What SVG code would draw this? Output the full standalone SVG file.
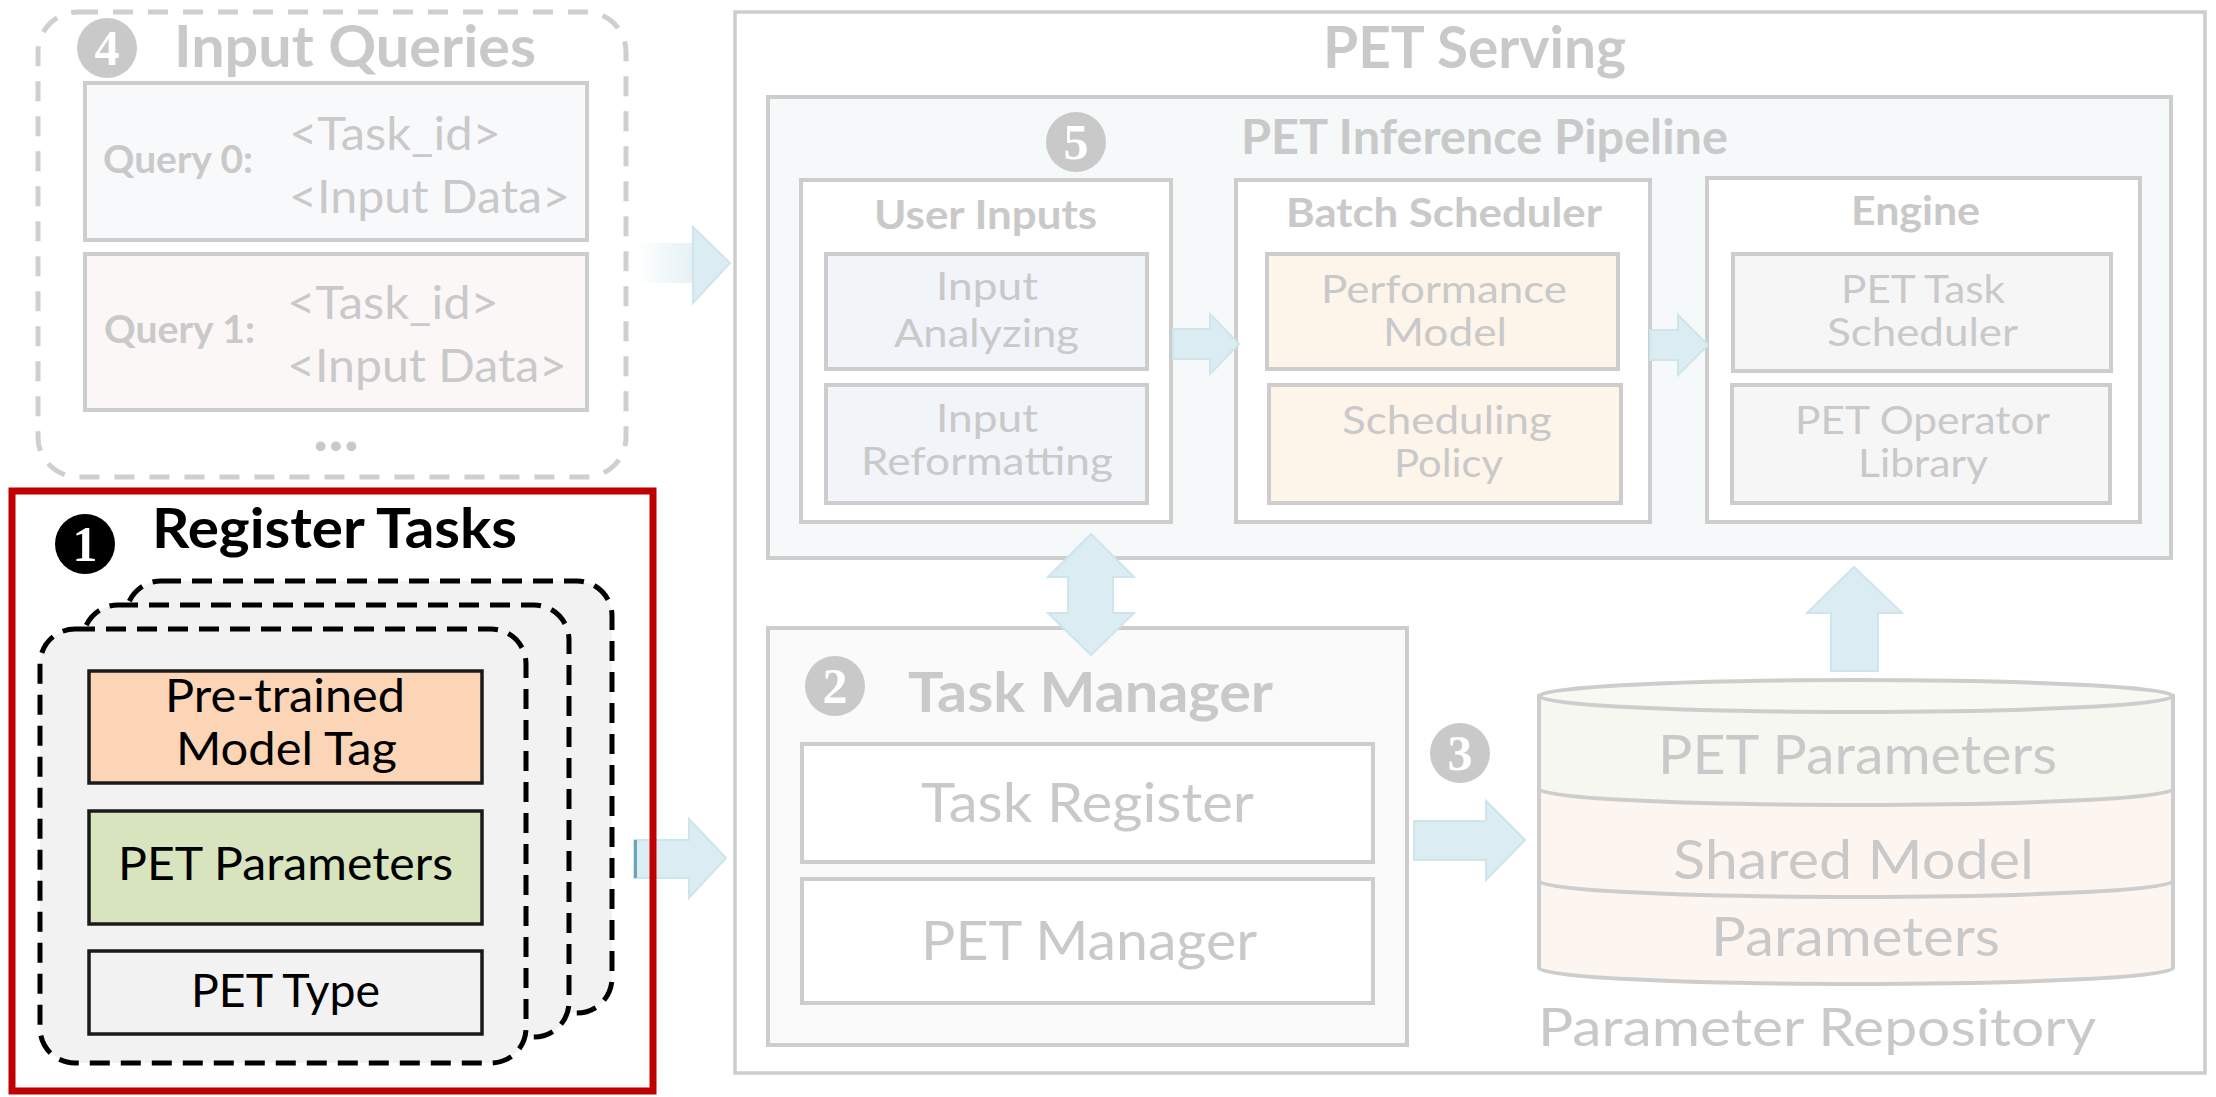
<svg xmlns="http://www.w3.org/2000/svg" width="2216" height="1097" viewBox="0 0 2216 1097">
  <style>
    text { font-family: Lato, "Open Sans", "Liberation Sans", sans-serif; }
    .g { fill: #c9c9c9; }
    .k { fill: #000000; }
    .b { font-weight: bold; }
    .sm { font-size: 38px; }
    .box { stroke: #cdcdcd; stroke-width: 4; }
    .frame { fill: none; stroke: #cdcdcd; stroke-width: 3.5; }
    .blk { stroke: #1a1a1a; stroke-width: 3.5; }
    .arr { fill: #dbedf2; stroke: #cfe5ec; stroke-width: 2; }
    .num { fill: #c9c9c9; }
    .dig { font-family: "Liberation Serif", "DejaVu Serif", serif; font-weight: bold; font-size: 50px; fill: #ffffff; text-anchor: middle; }
    .card { fill: #f2f2f2; stroke: #000000; stroke-width: 5; stroke-dasharray: 20 11; }
    .cyl { stroke: #cdcdcd; stroke-width: 4; }
  </style>
  <defs>
    <linearGradient id="fade" x1="0" y1="0" x2="1" y2="0">
      <stop offset="0" stop-color="#ffffff"/>
      <stop offset="1" stop-color="#e4f1f5"/>
    </linearGradient>
  </defs>

  <!-- Input queries -->
  <g id="input-queries">
    <rect x="38" y="12" width="588" height="465" rx="40" fill="none" stroke="#cfcfcf" stroke-width="5" stroke-dasharray="20 15"/>
    <circle class="num" cx="107" cy="48" r="30"/>
    <text class="dig" x="107" y="65">4</text>
    <text class="g b" x="174" y="67" font-size="58" textLength="362" lengthAdjust="spacingAndGlyphs">Input Queries</text>
    <rect class="box" x="85" y="83" width="502" height="157" fill="#f8f9fb"/>
    <text class="g b" x="103" y="173" font-size="38" textLength="150" lengthAdjust="spacingAndGlyphs">Query 0:</text>
    <text class="g" x="289" y="150" font-size="46" textLength="212" lengthAdjust="spacingAndGlyphs">&lt;Task_id&gt;</text>
    <text class="g" x="289" y="213" font-size="46" textLength="281" lengthAdjust="spacingAndGlyphs">&lt;Input Data&gt;</text>
    <rect class="box" x="85" y="254" width="502" height="156" fill="#faf7f6"/>
    <text class="g b" x="104" y="343" font-size="38" textLength="151" lengthAdjust="spacingAndGlyphs">Query 1:</text>
    <text class="g" x="287" y="319" font-size="46" textLength="212" lengthAdjust="spacingAndGlyphs">&lt;Task_id&gt;</text>
    <text class="g" x="287" y="382" font-size="46" textLength="280" lengthAdjust="spacingAndGlyphs">&lt;Input Data&gt;</text>
    <text class="g b" x="313" y="451" font-size="64" textLength="46" lengthAdjust="spacingAndGlyphs">...</text>
  </g>

  <!-- PET serving system -->
  <g id="pet-serving">
    <rect class="frame" x="735" y="12" width="1470" height="1061"/>
    <text class="g b" x="1323" y="68" font-size="57" textLength="303" lengthAdjust="spacingAndGlyphs">PET Serving</text>
  </g>

  <g id="inference-pipeline">
    <rect class="box" x="768" y="97" width="1403" height="461" fill="#f5f9fa"/>
    <circle class="num" cx="1076" cy="142" r="30"/>
    <text class="dig" x="1076" y="159">5</text>
    <text class="g b" x="1241" y="154" font-size="47" textLength="487" lengthAdjust="spacingAndGlyphs">PET Inference Pipeline</text>
  </g>

  <g id="user-inputs">
    <rect class="box" x="801" y="180" width="370" height="342" fill="#ffffff"/>
    <text class="g b" x="874" y="229" font-size="41" textLength="223" lengthAdjust="spacingAndGlyphs">User Inputs</text>
    <rect class="box" x="826" y="254" width="321" height="115" fill="#f1f4f9"/>
    <text class="g sm" x="936" y="300" textLength="102" lengthAdjust="spacingAndGlyphs">Input</text>
    <text class="g sm" x="894" y="347" textLength="185" lengthAdjust="spacingAndGlyphs">Analyzing</text>
    <rect class="box" x="826" y="385" width="321" height="118" fill="#f1f4f9"/>
    <text class="g sm" x="936" y="432" textLength="102" lengthAdjust="spacingAndGlyphs">Input</text>
    <text class="g sm" x="861" y="475" textLength="252" lengthAdjust="spacingAndGlyphs">Reformatting</text>
  </g>

  <g id="batch-scheduler">
    <rect class="box" x="1236" y="180" width="414" height="342" fill="#ffffff"/>
    <text class="g b" x="1286" y="227" font-size="41" textLength="316" lengthAdjust="spacingAndGlyphs">Batch Scheduler</text>
    <rect class="box" x="1267" y="254" width="351" height="115" fill="#fdf5ea"/>
    <text class="g sm" x="1321" y="303" textLength="246" lengthAdjust="spacingAndGlyphs">Performance</text>
    <text class="g sm" x="1383" y="346" textLength="124" lengthAdjust="spacingAndGlyphs">Model</text>
    <rect class="box" x="1269" y="385" width="352" height="118" fill="#fdf5ea"/>
    <text class="g sm" x="1342" y="434" textLength="210" lengthAdjust="spacingAndGlyphs">Scheduling</text>
    <text class="g sm" x="1394" y="477" textLength="109" lengthAdjust="spacingAndGlyphs">Policy</text>
  </g>

  <g id="engine">
    <rect class="box" x="1707" y="178" width="433" height="344" fill="#ffffff"/>
    <text class="g b" x="1851" y="225" font-size="41" textLength="129" lengthAdjust="spacingAndGlyphs">Engine</text>
    <rect class="box" x="1733" y="254" width="378" height="117" fill="#f6f6f6"/>
    <text class="g sm" x="1841" y="303" textLength="164" lengthAdjust="spacingAndGlyphs">PET Task</text>
    <text class="g sm" x="1827" y="346" textLength="191" lengthAdjust="spacingAndGlyphs">Scheduler</text>
    <rect class="box" x="1732" y="385" width="378" height="118" fill="#f6f6f6"/>
    <text class="g sm" x="1795" y="434" textLength="255" lengthAdjust="spacingAndGlyphs">PET Operator</text>
    <text class="g sm" x="1858" y="477" textLength="130" lengthAdjust="spacingAndGlyphs">Library</text>
  </g>

  <g id="task-manager">
    <rect class="box" x="768" y="628" width="639" height="417" fill="#fafafa"/>
    <circle class="num" cx="835" cy="686" r="30"/>
    <text class="dig" x="835" y="703">2</text>
    <text class="g b" x="908" y="712" font-size="55" textLength="365" lengthAdjust="spacingAndGlyphs">Task Manager</text>
    <rect class="box" x="802" y="744" width="571" height="118" fill="#ffffff"/>
    <text class="g" x="921" y="822" font-size="55" textLength="333" lengthAdjust="spacingAndGlyphs">Task Register</text>
    <rect class="box" x="802" y="879" width="571" height="124" fill="#ffffff"/>
    <text class="g" x="921" y="960" font-size="55" textLength="336" lengthAdjust="spacingAndGlyphs">PET Manager</text>
  </g>

  <g id="step-3">
    <circle class="num" cx="1460" cy="753" r="30"/>
    <text class="dig" x="1460" y="770">3</text>
  </g>

  <!-- Parameter repository drawn as a cylinder -->
  <g id="parameter-repository">
    <path class="cyl" d="M1539,696 V968 A317,16 0 0 0 2173,968 V696 Z" fill="#fdf6f0"/>
    <path d="M1539,696 V789 A317,16 0 0 0 2173,789 V696 Z" fill="#f6f7f0"/>
    <path class="cyl" d="M1539,696 V968 M2173,968 V696" fill="none"/>
    <path class="cyl" d="M1539,789 A317,16 0 0 0 2173,789" fill="none"/>
    <path class="cyl" d="M1539,881 A317,16 0 0 0 2173,881" fill="none"/>
    <ellipse class="cyl" cx="1856" cy="696" rx="317" ry="16" fill="#f8f9f3"/>
    <text class="g" x="1658" y="774" font-size="55" textLength="399" lengthAdjust="spacingAndGlyphs">PET Parameters</text>
    <text class="g" x="1673" y="879" font-size="55" textLength="361" lengthAdjust="spacingAndGlyphs">Shared Model</text>
    <text class="g" x="1711" y="956" font-size="55" textLength="289" lengthAdjust="spacingAndGlyphs">Parameters</text>
    <text class="g" x="1538" y="1046" font-size="53" textLength="558" lengthAdjust="spacingAndGlyphs">Parameter Repository</text>
  </g>

  <!-- Register tasks: stacked task cards -->
  <g id="register-tasks">
    <rect class="card" x="126" y="581" width="486" height="432" rx="35"/>
    <rect class="card" x="83" y="605" width="486" height="432" rx="35"/>
    <rect class="card" x="40" y="629" width="486" height="434" rx="35"/>
    <circle cx="85" cy="544" r="30" fill="#000000"/>
    <text class="dig" x="85" y="561">1</text>
    <text class="k b" x="152" y="548" font-size="56" textLength="365" lengthAdjust="spacingAndGlyphs">Register Tasks</text>
    <rect class="blk" x="89" y="671" width="393" height="112" fill="#fbd5b5"/>
    <text class="k" x="165" y="712" font-size="46" textLength="240" lengthAdjust="spacingAndGlyphs">Pre-trained</text>
    <text class="k" x="176" y="765" font-size="46" textLength="221" lengthAdjust="spacingAndGlyphs">Model Tag</text>
    <rect class="blk" x="89" y="811" width="393" height="113" fill="#d7e4bd"/>
    <text class="k" x="118" y="880" font-size="47" textLength="335" lengthAdjust="spacingAndGlyphs">PET Parameters</text>
    <rect class="blk" x="89" y="951" width="393" height="83" fill="#f2f2f2"/>
    <text class="k" x="191" y="1007" font-size="47" textLength="189" lengthAdjust="spacingAndGlyphs">PET Type</text>
  </g>

  <!-- Block arrows between components -->
  <g id="connectors">
    <!-- queries into serving -->
    <rect x="637" y="243" width="57" height="40" fill="url(#fade)"/>
    <path class="arr" d="M693,227 L730,263 L693,303 Z"/>
    <!-- user inputs to batch scheduler -->
    <path class="arr" d="M1173,329 H1210 V314 L1239,344 L1210,374 V359 H1173 Z"/>
    <!-- batch scheduler to engine -->
    <path class="arr" d="M1650,330 H1678 V315 L1708,345 L1678,375 V360 H1650 Z"/>
    <!-- pipeline and task manager, both ways -->
    <path class="arr" d="M1091,534 L1134,577 H1113 V613 H1134 L1091,655 L1048,613 H1068 V577 H1048 Z"/>
    <!-- repository up to engine -->
    <path class="arr" d="M1854,567 L1902,613 H1878 V671 H1831 V613 H1807 Z"/>
    <!-- task manager to repository -->
    <path class="arr" d="M1414,821 H1486 V801 L1525,840 L1486,880 V860 H1414 Z"/>
    <!-- register tasks to task manager -->
    <path class="arr" d="M634,840 H689 V819 L726,858 L689,898 V878 H634 Z"/>
    <line x1="635.5" y1="840" x2="635.5" y2="878" stroke="#6aa5ba" stroke-width="3"/>
  </g>

  <!-- highlight frame around the registration step -->
  <g id="register-frame">
    <rect x="12" y="491" width="641" height="600" fill="none" stroke="#c00000" stroke-width="7"/>
  </g>
</svg>
